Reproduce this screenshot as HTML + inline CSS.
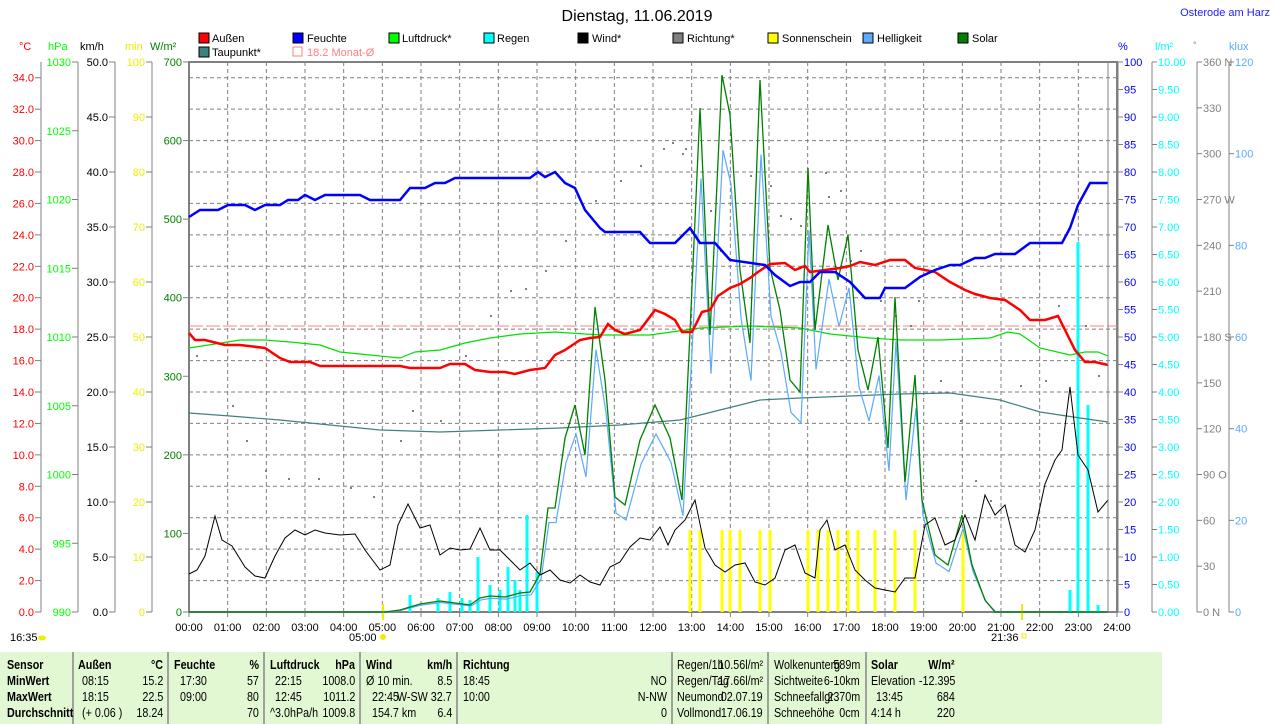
<!DOCTYPE html>
<html><head><meta charset="utf-8"><style>
body{margin:0;background:#fff;width:1274px;height:724px;overflow:hidden;font-family:"Liberation Sans",sans-serif;}
svg text{font-family:"Liberation Sans",sans-serif;font-size:11px;}
#tbl{position:absolute;left:0;top:652px;width:1162px;height:72px;background:#e2f8d2;}
.c{position:absolute;font-size:12.5px;color:#000;white-space:pre;transform:scaleX(0.86);}
.b{font-weight:bold;}
.sep{position:absolute;top:652px;width:2px;height:72px;background:#a0a0a0;}
</style></head><body>
<svg width="1274" height="652" style="position:absolute;left:0;top:0">
<text x="637" y="21" text-anchor="middle" style="font-size:16px">Dienstag, 11.06.2019</text>
<text x="1270" y="16" text-anchor="end" fill="#2020ff" style="font-size:11px">Osterode am Harz</text>
<g>
<rect x="199" y="33" width="10" height="10" fill="#f00" stroke="#000"/><text x="212" y="42">Außen</text>
<rect x="293" y="33" width="10" height="10" fill="#00f" stroke="#000"/><text x="307" y="42">Feuchte</text>
<rect x="389" y="33" width="10" height="10" fill="#0f0" stroke="#000"/><text x="402" y="42">Luftdruck*</text>
<rect x="484" y="33" width="10" height="10" fill="#0ff" stroke="#000"/><text x="497" y="42">Regen</text>
<rect x="578" y="33" width="10" height="10" fill="#000" stroke="#000"/><text x="592" y="42">Wind*</text>
<rect x="673" y="33" width="10" height="10" fill="#808080" stroke="#000"/><text x="687" y="42">Richtung*</text>
<rect x="768" y="33" width="10" height="10" fill="#ff0" stroke="#000"/><text x="782" y="42">Sonnenschein</text>
<rect x="863" y="33" width="10" height="10" fill="#5aaaff" stroke="#000"/><text x="877" y="42">Helligkeit</text>
<rect x="958" y="33" width="10" height="10" fill="#008000" stroke="#000"/><text x="972" y="42">Solar</text>
<rect x="199" y="47" width="10" height="10" fill="#408080" stroke="#000"/><text x="212" y="56">Taupunkt*</text>
<rect x="293" y="47" width="9" height="9" fill="none" stroke="#ff8080"/><text x="307" y="56" fill="#ff8080">18.2 Monat-Ø</text>
</g>
<text x="19" y="50" fill="#f00">°C</text><text x="48" y="50" fill="#0f0">hPa</text><text x="80" y="50">km/h</text><text x="125" y="50" fill="#ee0">min</text><text x="150" y="50" fill="#008000">W/m²</text>
<text x="1118" y="50" fill="#00f">%</text><text x="1155" y="50" fill="#0ff">l/m²</text><text x="1193" y="48" fill="#808080" style="font-size:9px">°</text><text x="1229" y="50" fill="#5aaaff">klux</text>
<g stroke="#808080" stroke-dasharray="4,3" stroke-width="1" id="grid"></g>
<rect x="189" y="62" width="928" height="550" fill="none" stroke="#808080" stroke-width="2"/>
<g id="axes" stroke="#808080" fill="none"></g>
<g id="labs"></g>
<line x1="189" y1="326" x2="1117" y2="326" stroke="#ff8080" stroke-dasharray="14,3"/>
<g id="bars"></g>
<g id="dots" fill="#808080"></g>
<polyline id="teal" fill="none" stroke="#408080" stroke-width="1.2"/>
<polyline id="lgreen" fill="none" stroke="#00e000" stroke-width="1.2"/>
<polyline id="helli" fill="none" stroke="#5aaaff" stroke-width="1.2"/>
<polyline id="solar" fill="none" stroke="#008000" stroke-width="1.3"/>
<polyline id="wind" fill="none" stroke="#000" stroke-width="1"/>
<polyline id="red" fill="none" stroke="#f00" stroke-width="2.5"/>
<polyline id="blue" fill="none" stroke="#00f" stroke-width="2.5"/>
<line x1="1108" y1="62" x2="1108" y2="612" stroke="#808080"/>
<text x="10" y="641">16:35</text><ellipse cx="42" cy="638" rx="4" ry="2.5" fill="#ee0"/>
<text x="349" y="641">05:00</text><circle cx="383" cy="637" r="3" fill="#ee0"/>
<text x="991" y="641">21:36</text><rect x="1022" y="634" width="4" height="4" fill="none" stroke="#ee0"/>
</svg>
<div id="tbl"></div>
<div class="sep" style="left:72px"></div><div class="sep" style="left:167px"></div><div class="sep" style="left:263px"></div><div class="sep" style="left:359px"></div><div class="sep" style="left:456px"></div><div class="sep" style="left:671px"></div><div class="sep" style="left:767px"></div><div class="sep" style="left:865px"></div>
<div id="T"></div>
<script>
var S="http://www.w3.org/2000/svg";
function el(p,t,a,txt){var e=document.createElementNS(S,t);for(var k in a)e.setAttribute(k,a[k]);if(txt!=null)e.textContent=txt;document.getElementById(p).appendChild(e);return e;}
var X0=189,XW=928/24;
for(var h=1;h<24;h++){var x=X0+h*XW;el("grid","line",{x1:x,y1:62,x2:x,y2:612});}
for(var t=2;t<=34;t+=2){var y=612-t*15.714;el("grid","line",{x1:189,y1:y,x2:1117,y2:y});}
for(var h=0;h<=24;h++){var x=X0+h*XW;el("axes","line",{x1:x,y1:612,x2:x,y2:617});el("labs","text",{x:x,y:631,"text-anchor":"middle"},(h<10?"0":"")+h+":00");}
function axis(ax,lo,hi,step,fmt,col,tx,left){
 el("axes","line",{x1:ax,y1:62,x2:ax,y2:612});
 for(var v=lo;v<=hi+1e-9;v+=step){var y=612-(v-lo)/(hi-lo)*550;
  if(left){el("axes","line",{x1:ax-6,y1:y,x2:ax,y2:y});el("labs","text",{x:ax-7,y:y+4,"text-anchor":"end",fill:col},fmt(v));}
  else{el("axes","line",{x1:ax,y1:y,x2:ax+5,y2:y});el("labs","text",{x:ax+6,y:y+4,fill:col},fmt(v));}}
}
el("axes","line",{x1:41,y1:62,x2:41,y2:612});
for(var t=0;t<=34;t+=2){var y=612-t*15.714;el("axes","line",{x1:35,y1:y,x2:41,y2:y});el("labs","text",{x:34,y:y+4,"text-anchor":"end",fill:"#f00"},t.toFixed(1));}
axis(78,990,1030,5,function(v){return v},"#0f0",0,1);
axis(115,0,50,5,function(v){return v.toFixed(1)},"#000",0,1);
axis(152,0,100,10,function(v){return Math.round(v)},"#ee0",0,1);
axis(189,0,700,100,function(v){return v},"#008000",0,1);
axis(1118,0,100,5,function(v){return Math.round(v)},"#00f",0,0);
axis(1152,0,10,0.5,function(v){return v.toFixed(2)},"#0ff",0,0);
axis(1197,0,360,30,function(v){v=Math.round(v);return v==0?"0  N":v==90?"90  O":v==180?"180 S":v==270?"270 W":v==360?"360 N":v},"#808080",0,0);
axis(1229,0,120,20,function(v){return Math.round(v)},"#5aaaff",0,0);
function P(id,a){document.getElementById(id).setAttribute("points",a.map(function(p){return p.join(",")}).join(" "));}
P("blue",[[189,217],[200,210],[218,210],[228,205],[245,205],[255,210],[265,205],[280,205],[288,200],[298,200],[305,195],[315,200],[325,195],[360,195],[370,200],[400,200],[410,188],[425,188],[435,183],[445,183],[455,178],[530,178],[538,172],[545,177],[555,172],[565,183],[575,188],[585,210],[600,228],[605,232],[640,232],[650,243],[675,243],[690,228],[700,243],[715,243],[730,260],[765,265],[775,275],[790,286],[800,282],[810,282],[820,272],[835,272],[850,282],[865,298],[880,298],[885,288],[905,288],[920,277],[935,270],[950,265],[960,265],[975,258],[985,258],[995,254],[1015,254],[1030,243],[1062,243],[1070,228],[1078,205],[1090,183],[1108,183]]);
P("red",[[189,333],[195,340],[205,340],[225,345],[240,345],[265,348],[280,358],[290,362],[310,362],[320,366],[400,366],[410,368],[440,368],[450,364],[465,364],[475,370],[490,372],[505,372],[515,374],[530,370],[545,368],[555,355],[565,350],[580,340],[590,338],[600,337],[608,324],[615,330],[625,334],[640,330],[655,310],[665,314],[675,320],[682,332],[692,332],[702,312],[710,310],[718,296],[730,288],[740,284],[750,278],[758,272],[770,264],[785,263],[795,270],[805,266],[810,272],[825,270],[840,268],[850,266],[860,262],[875,265],[890,260],[905,260],[915,268],[935,272],[950,282],[965,290],[975,294],[990,298],[1005,300],[1020,310],[1030,320],[1045,320],[1058,316],[1065,330],[1075,350],[1085,362],[1095,362],[1108,365]]);
P("lgreen",[[189,348],[215,344],[240,340],[265,340],[290,342],[320,345],[340,352],[370,355],[400,358],[415,352],[440,350],[465,343],[490,338],[520,334],[555,332],[600,335],[650,335],[700,328],[750,326],[800,328],[830,334],[870,338],[900,340],[940,340],[990,338],[1008,332],[1020,334],[1040,348],[1070,355],[1085,352],[1098,352],[1108,356]]);
P("teal",[[189,413],[230,416],[280,420],[330,425],[380,430],[440,432],[500,430],[560,428],[620,425],[680,420],[720,410],[760,400],[800,398],[850,396],[900,394],[950,393],[1000,400],[1040,412],[1080,418],[1108,422]]);
P("wind",[[189,574],[197,570],[205,556],[215,516],[222,540],[232,546],[245,567],[255,576],[265,578],[275,556],[285,538],[295,530],[305,535],[315,530],[325,533],[340,535],[355,534],[365,550],[380,570],[390,565],[398,525],[408,504],[420,528],[430,525],[440,555],[450,548],[460,550],[470,549],[480,528],[490,550],[500,550],[510,560],[520,570],[530,563],[540,575],[550,570],[560,580],[570,583],[580,575],[590,582],[600,585],[610,567],[620,562],[630,547],[640,538],[650,540],[660,527],[668,545],[675,530],[685,520],[695,500],[705,548],[715,565],[725,572],[735,565],[745,563],[755,582],[765,585],[775,578],[785,550],[795,545],[805,573],[815,578],[820,530],[827,520],[835,550],[845,545],[855,570],[865,580],[875,588],[885,590],[895,592],[905,578],[915,578],[925,525],[935,518],[945,545],[955,540],[965,515],[975,540],[985,495],[995,515],[1005,505],[1015,545],[1025,552],[1035,530],[1045,484],[1055,460],[1062,450],[1070,387],[1078,455],[1088,470],[1098,512],[1108,500]]);
var sol=[[189,612],[385,612],[400,610],[420,604],[440,601],[455,603],[470,605],[480,598],[490,596],[505,597],[520,593],[530,592],[540,574],[548,508],[555,508],[565,438],[575,405],[585,455],[595,307],[605,380],[615,497],[625,505],[640,440],[655,405],[670,438],[682,500],[690,332],[700,108],[710,335],[722,75],[730,115],[740,270],[750,343],[760,80],[770,268],[780,310],[790,380],[800,392],[808,168],[815,330],[828,225],[838,280],[848,235],[858,350],[868,390],[878,337],[888,448],[895,297],[905,482],[915,375],[922,500],[935,555],[948,565],[962,515],[972,565],[985,600],[995,612],[1108,612]];
P("solar",sol);
P("helli",sol.map(function(p){return [p[0]+1,612-(612-p[1])*0.86];}));
[[410,595],[438,598],[450,592],[462,598],[470,600],[478,557],[490,585],[500,590],[508,567],[515,580],[520,590],[527,515],[537,572],[1070,590],[1078,242],[1088,405],[1098,605]].forEach(function(b){el("bars","rect",{x:b[0]-1.5,y:b[1],width:3,height:612-b[1],fill:"#0ff"});});
[690,700,722,730,740,760,770,808,818,828,838,848,858,875,895,915,963].forEach(function(x){el("bars","rect",{x:x-1.5,y:530,width:3,height:82,fill:"#ff0"});});
el("bars","rect",{x:382,y:604,width:2,height:16,fill:"#ee0"});el("bars","rect",{x:1021,y:604,width:2,height:16,fill:"#ee0"});
[[196,355],[232,405],[246,440],[265,470],[288,478],[318,478],[350,487],[373,496],[400,440],[412,410],[440,420],[465,355],[490,315],[510,290],[525,288],[545,270],[565,240],[595,200],[620,180],[640,165],[663,148],[672,142],[682,153],[685,148],[700,185],[710,210],[720,250],[750,175],[770,185],[780,215],[790,218],[800,225],[825,172],[828,196],[840,190],[850,260],[860,250],[880,300],[895,315],[910,325],[918,300],[940,380],[960,420],[975,480],[990,500],[1020,385],[1045,380],[1058,305],[1085,325],[1098,375]].forEach(function(p){el("dots","rect",{x:p[0],y:p[1],width:2,height:2});});
var T=document.getElementById("T"),html="";
function c(x,y,t,b,r){html+='<div class="c'+(b?' b':'')+'" style="'+(r?'right:'+(1274-x)+'px;transform-origin:right center':'left:'+x+'px;transform-origin:left center')+';top:'+(y-8)+'px">'+t+'</div>';}
var Y=[666,682,698,714];
c(7,Y[0],"Sensor",1);c(7,Y[1],"MinWert",1);c(7,Y[2],"MaxWert",1);c(7,Y[3],"Durchschnitt",1);
c(78,Y[0],"Außen",1);c(163,Y[0],"°C",1,1);c(82,Y[1],"08:15");c(163,Y[1],"15.2",0,1);c(82,Y[2],"18:15");c(163,Y[2],"22.5",0,1);c(82,Y[3],"(+ 0.06 )");c(163,Y[3],"18.24",0,1);
c(174,Y[0],"Feuchte",1);c(259,Y[0],"%",1,1);c(180,Y[1],"17:30");c(259,Y[1],"57",0,1);c(180,Y[2],"09:00");c(259,Y[2],"80",0,1);c(259,Y[3],"70",0,1);
c(270,Y[0],"Luftdruck",1);c(355,Y[0],"hPa",1,1);c(275,Y[1],"22:15");c(355,Y[1],"1008.0",0,1);c(275,Y[2],"12:45");c(355,Y[2],"1011.2",0,1);c(270,Y[3],"^3.0hPa/h");c(355,Y[3],"1009.8",0,1);
c(366,Y[0],"Wind",1);c(452,Y[0],"km/h",1,1);c(366,Y[1],"Ø 10 min.");c(452,Y[1],"8.5",0,1);c(372,Y[2],"22:45");c(452,Y[2],"W-SW 32.7",0,1);c(372,Y[3],"154.7 km");c(452,Y[3],"6.4",0,1);
c(463,Y[0],"Richtung",1);c(463,Y[1],"18:45");c(667,Y[1],"NO",0,1);c(463,Y[2],"10:00");c(667,Y[2],"N-NW",0,1);c(667,Y[3],"0",0,1);
c(677,Y[0],"Regen/1h");c(763,Y[0],"10.56l/m²",0,1);c(677,Y[1],"Regen/Tag");c(763,Y[1],"17.66l/m²",0,1);c(677,Y[2],"Neumond");c(763,Y[2],"02.07.19",0,1);c(677,Y[3],"Vollmond");c(763,Y[3],"17.06.19",0,1);
c(774,Y[0],"Wolkenunterg");c(860,Y[0],"589m",0,1);c(774,Y[1],"Sichtweite");c(860,Y[1],"6-10km",0,1);c(774,Y[2],"Schneefallgr");c(860,Y[2],"2370m",0,1);c(774,Y[3],"Schneehöhe");c(860,Y[3],"0cm",0,1);
c(871,Y[0],"Solar",1);c(955,Y[0],"W/m²",1,1);c(871,Y[1],"Elevation");c(955,Y[1],"-12.395",0,1);c(876,Y[2],"13:45");c(955,Y[2],"684",0,1);c(871,Y[3],"4:14 h");c(955,Y[3],"220",0,1);
T.innerHTML=html;
</script>
</body></html>
